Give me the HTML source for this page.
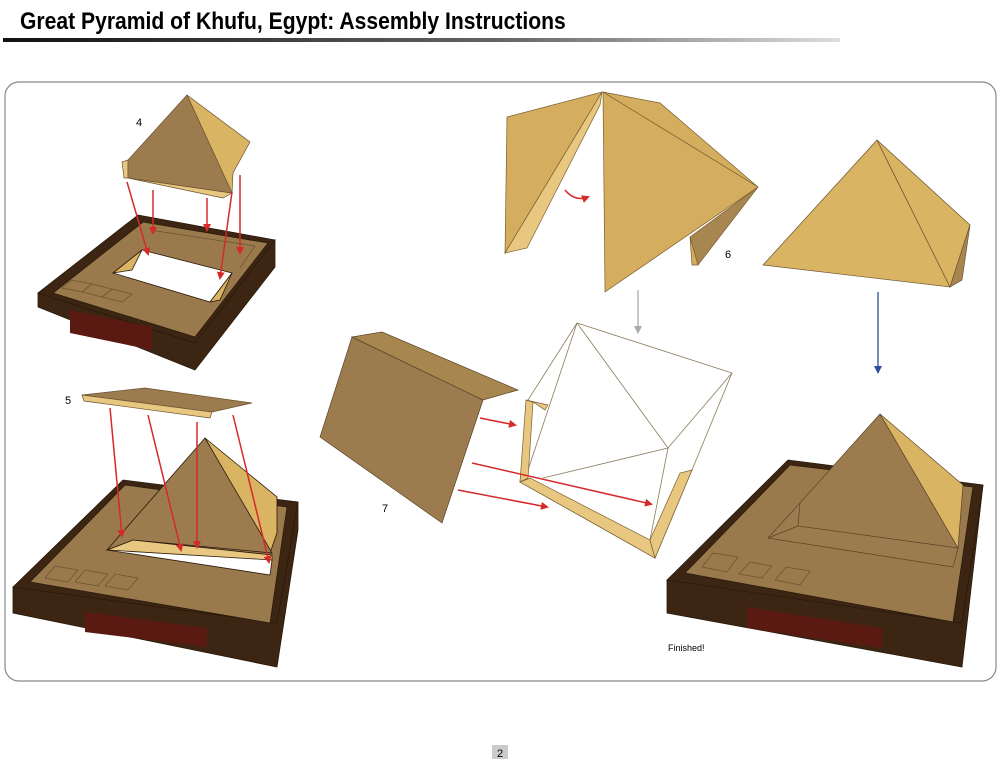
<!DOCTYPE html>
<html><head><meta charset="utf-8"><style>
html,body{margin:0;padding:0;background:#fff;width:1000px;height:761px;overflow:hidden}
svg{display:block}
text{font-family:"Liberation Sans",sans-serif}
</style></head><body>
<svg width="1000" height="761" viewBox="0 0 1000 761">
<defs>
<linearGradient id="hl" x1="0" x2="1"><stop offset="0" stop-color="#111"/><stop offset="0.6" stop-color="#666"/><stop offset="1" stop-color="#ddd"/></linearGradient>
<marker id="ar" markerWidth="8" markerHeight="8" refX="6" refY="4" orient="auto" markerUnits="userSpaceOnUse"><path d="M0,0 L8,4 L0,8z" fill="#d42a2a"/></marker>
<marker id="ab" markerWidth="8" markerHeight="8" refX="6" refY="4" orient="auto" markerUnits="userSpaceOnUse"><path d="M0,0 L8,4 L0,8z" fill="#2b4f9a"/></marker>
<marker id="ag" markerWidth="8" markerHeight="8" refX="6" refY="4" orient="auto" markerUnits="userSpaceOnUse"><path d="M0,0 L8,4 L0,8z" fill="#aaa"/></marker>
</defs>
<text x="20" y="29" font-size="24" font-weight="bold" transform="translate(20,29) scale(0.88,1) translate(-20,-29)">Great Pyramid of Khufu, Egypt: Assembly Instructions</text>
<rect x="3" y="38" width="837" height="4" fill="url(#hl)"/>
<rect x="5" y="82" width="991" height="599" rx="14" fill="#fff" stroke="#888" stroke-width="1.2"/>

<!-- Base 1 -->
<g stroke="#2a1a0b" stroke-width="0.8">
<polygon points="38,293 195,343 275,240 275,267 195,370 38,307" fill="#3c2613"/>
<polygon points="38,293 138,215 275,240 195,343" fill="#3c2613"/>
<polygon points="53,293 143,222 268,243 195,337" fill="#9a7a4c"/>
<polygon points="113,273 142,250 232,273 210,302" fill="#fff"/>
<polygon points="113,273 142,250 132,270" fill="#d9b463"/>
<polygon points="210,302 232,273 220,300" fill="#d9b463"/>
<polygon points="70,310 152,327 152,350 70,333" fill="#5a1a12" stroke="none"/>
</g>
<g stroke="#6b5230" fill="none" stroke-width="0.7">
<polygon points="62,288 72,280 92,284 82,292"/><polygon points="82,292 92,284 112,289 102,297"/><polygon points="102,297 112,289 132,294 122,302"/>
<polyline points="150,230 255,246 240,268"/>
</g>
<!-- Pyramid 4 -->
<g stroke="#6b5230" stroke-width="0.7">
<polygon points="122,162 128,160 128,178 124,178" fill="#e8c880"/>
<polygon points="128,178 232,193 223,198" fill="#e8c880"/>
<polygon points="187,95 250,142 233,173 232,193" fill="#d9b463"/>
<polygon points="187,95 128,160 128,178 232,193" fill="#9c7c4e"/>
</g>
<text x="136" y="126" font-size="11">4</text>
<g stroke="#d42a2a" stroke-width="1.5" fill="none">
<line x1="127" y1="182" x2="148" y2="254" marker-end="url(#ar)"/><line x1="153" y1="190" x2="153" y2="233" marker-end="url(#ar)"/>
<line x1="207" y1="198" x2="207" y2="230" marker-end="url(#ar)"/><line x1="240" y1="175" x2="240" y2="253" marker-end="url(#ar)"/>
<line x1="232" y1="192" x2="220" y2="278" marker-end="url(#ar)"/>
</g>

<!-- Base 2 -->
<g stroke="#2a1a0b" stroke-width="0.8">
<polygon points="13,587 277,623 298,502 298,530 277,667 13,613" fill="#3c2613"/>
<polygon points="13,587 123,480 298,502 277,623" fill="#3c2613"/>
<polygon points="30,582 125,485 287,507 270,623" fill="#9a7a4c"/>
<polygon points="85,612 207,628 207,647 85,632" fill="#5a1a12" stroke="none"/>
<polygon points="107,550 133,540 272,560 270,575" fill="#fff"/>
<polygon points="107,550 133,540 272,555 272,560" fill="#e8c880"/>
<polygon points="205,438 277,497 277,533 270,553" fill="#d9b463"/>
<polygon points="205,438 107,550 133,540 272,553" fill="#9c7c4e"/>
</g>
<g stroke="#6b5230" fill="none" stroke-width="0.7">
<polygon points="45,578 55,566 78,570 68,582"/><polygon points="75,582 85,570 108,574 98,586"/><polygon points="105,586 115,574 138,578 128,590"/>
</g>
<g stroke="#6b5230" stroke-width="0.7">
<polygon points="82,395 145,388 252,403 212,412" fill="#9c7c4e"/>
<polygon points="82,395 212,412 210,418 84,401" fill="#e8c880"/>
</g>
<text x="65" y="404" font-size="11">5</text>
<g stroke="#d42a2a" stroke-width="1.5" fill="none" marker-end="url(#ar)">
<line x1="110" y1="408" x2="122" y2="536"/><line x1="148" y1="415" x2="181" y2="550"/>
<line x1="197" y1="422" x2="197" y2="547"/><line x1="233" y1="415" x2="269" y2="562"/>
</g>

<!-- Step 6 -->
<g stroke="#7a5c30" stroke-width="0.7">
<polygon points="507,117 602,92 505,253" fill="#d4ae5e"/>
<polygon points="602,92 505,253 527,248 600,105" fill="#e8c880"/>
<polygon points="603,92 660,103 758,187" fill="#d4ae5e"/>
<polygon points="603,92 758,187 605,292" fill="#d4ae5e"/>
<polygon points="758,187 698,265 690,237" fill="#a8864f"/>
<polygon points="690,237 698,265 692,265" fill="#d4ae5e"/>
</g>
<path d="M565,190 Q575,202 588,197" stroke="#d42a2a" stroke-width="1.5" fill="none" marker-end="url(#ar)"/>
<text x="725" y="258" font-size="11">6</text>
<line x1="638" y1="290" x2="638" y2="332" stroke="#aaa" stroke-width="1.3" marker-end="url(#ag)"/>

<!-- top right pyramid -->
<g stroke="#6b5230" stroke-width="0.7">
<polygon points="877,140 763,265 950,287" fill="#d9b463"/>
<polygon points="877,140 970,225 950,287" fill="#d9b463"/>
<polygon points="970,225 950,287 962,280" fill="#a8864f"/>
</g>
<line x1="878" y1="292" x2="878" y2="372" stroke="#2b4f9a" stroke-width="1.3" marker-end="url(#ab)"/>

<!-- Step 7 -->
<g stroke="#5a4428" stroke-width="0.7">
<polygon points="320,437 352,337 483,400 442,523" fill="#9c7c4e"/>
<polygon points="352,337 382,332 518,390 483,400" fill="#a8864f"/>
</g>
<text x="382" y="512" font-size="11">7</text>
<g stroke="#8a7a5a" stroke-width="0.8" fill="none">
<polygon points="577,323 732,373 692,470 655,558 520,482 528,400" fill="#fff"/>
<polyline points="577,323 528,470"/><polyline points="577,323 668,448 732,373"/>
<polyline points="668,448 543,478"/><polyline points="668,448 650,540"/>
</g>
<g stroke="#7a5c30" stroke-width="0.7">
<polygon points="526,400 533,402 528,478 520,482" fill="#e8c880"/>
<polygon points="526,400 548,405 545,410 533,402" fill="#e8c880"/>
<polygon points="520,482 530,478 650,540 655,558" fill="#e8c880"/>
<polygon points="655,558 650,540 680,473 692,470" fill="#e8c880"/>
</g>
<g stroke="#d42a2a" stroke-width="1.5" fill="none" marker-end="url(#ar)">
<line x1="480" y1="418" x2="515" y2="425"/><line x1="472" y1="463" x2="651" y2="504"/><line x1="458" y1="490" x2="547" y2="507"/>
</g>

<!-- Finished base -->
<g stroke="#2a1a0b" stroke-width="0.8">
<polygon points="667,580 962,623 983,485 962,667 667,613" fill="#3c2613"/>
<polygon points="667,580 788,460 983,485 962,623" fill="#3c2613"/>
<polygon points="685,573 790,465 973,487 953,622" fill="#9a7a4c"/>
<polygon points="747,607 882,628 882,648 747,628" fill="#5a1a12" stroke="none"/>
</g>
<g stroke="#5a4428" stroke-width="0.7">
<polygon points="768,538 800,503 958,548 953,567" fill="#9c7c4e"/>
<polygon points="880,414 963,485 958,548" fill="#d9b463"/>
<polygon points="880,414 800,503 798,526 958,548" fill="#9c7c4e"/>
<polyline points="768,538 798,526" fill="none"/>
</g>
<g stroke="#6b5230" fill="none" stroke-width="0.7">
<polygon points="702,567 713,553 738,557 727,572"/><polygon points="739,574 750,562 772,566 762,578"/><polygon points="775,580 786,567 810,571 800,585"/>
</g>
<text x="668" y="651" font-size="9">Finished!</text>

<rect x="492" y="745" width="16" height="14" fill="#ccc"/>
<text x="500" y="757" font-size="11" text-anchor="middle">2</text>
</svg>
</body></html>
